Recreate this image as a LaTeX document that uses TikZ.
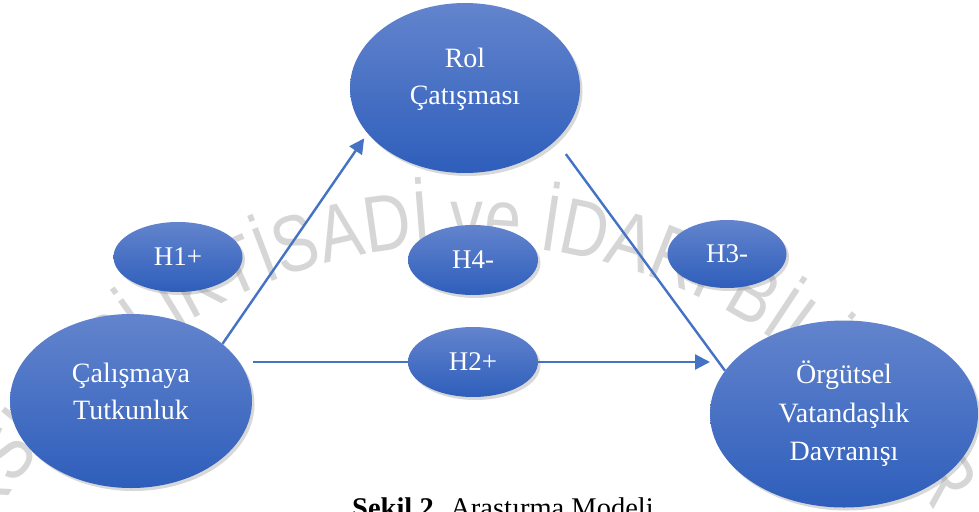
\documentclass[tikz,border=0pt]{standalone}
\usepackage{fontspec}
\setmainfont{Liberation Serif}
\newfontfamily\wmfont[FakeStretch=0.82]{Liberation Sans}
\usetikzlibrary{arrows.meta,shadows,shapes.geometric,decorations.text}
\definecolor{ctop}{RGB}{99,132,205}
\definecolor{cbot}{RGB}{46,94,187}
\definecolor{lineblue}{RGB}{68,114,196}
\definecolor{wm}{RGB}{214,214,214}
\tikzset{
  ell/.style={ellipse, draw=none, top color=ctop, bottom color=cbot, inner sep=0pt,
    drop shadow={shadow xshift=2.5pt, shadow yshift=-3pt, opacity=0.3}},
  lbl/.style={text=white, align=center, inner sep=0pt, font=\fontsize{28}{37}\selectfont},
  hlbl/.style={text=white, inner sep=0pt, font=\fontsize{27}{30}\selectfont},
  conn/.style={draw=lineblue, line width=2.4pt},
  arr/.style={conn, -{Triangle[length=15pt,width=15pt]}}
}
\begin{document}
\begin{tikzpicture}[x=1pt,y=-1pt]
\clip (0,0) rectangle (979,511);
\fill[white] (0,0) rectangle (979,511);
% watermark
\path[decoration={text along path, text align=left,
  text={|\wmfont\fontsize{80}{80}\selectfont\color{wm}|ÜNİVERSİTESİ İKTİSADİ ve İDARİ BİLİMLER FAKÜLTESİ}},
  decorate] (467,788) ++(-172.5:543) arc[start angle=-172.5, end angle=10, radius=543];
% ellipses
\node[ell, minimum width=242pt, minimum height=174pt] (ct) at (131,401) {};
\node[lbl] (ctt) at ([yshift=10pt]ct.center) {Çalışmaya\\Tutkunluk};
\node[ell, minimum width=230pt, minimum height=170pt] (rc) at (465,88) {};
\node[lbl] (rct) at ([yshift=9pt]rc.center) {Rol\\Çatışması};
\node[ell, minimum width=268pt, minimum height=187pt] (og) at (844,414) {};
\node[lbl, font=\fontsize{28}{38.5}\selectfont] (ogt) at ([yshift=0pt]og.center) {Örgütsel\\Vatandaşlık\\Davranışı};
\node[ell, minimum width=129pt, minimum height=70pt] (h1) at (178,257) {};
\node[hlbl] (h1t) at (h1.center) {H1+};
\node[ell, minimum width=130pt, minimum height=70pt] (h4) at (473,260) {};
\node[hlbl] (h4t) at (h4.center) {H4-};
\node[ell, minimum width=119pt, minimum height=68pt] (h3) at (727,254) {};
\node[hlbl] (h3t) at (h3.center) {H3-};
\node[ell, minimum width=130pt, minimum height=70pt] (h2) at (473,362) {};
\node[hlbl] (h2t) at (h2.center) {H2+};
% connectors
\draw[arr, shorten >=6pt] (ct.32.5) -- (rc.205.4);
\draw[conn, shorten <=17pt] (rc.-30.7) -- (og.160.3);
\coordinate (s3) at (253,362);
\coordinate (e3) at (710,362);
\draw[conn] (s3) -- (h2);
\draw[arr] (h2) -- (e3);
% caption
\node[anchor=base west, inner sep=0pt, font=\fontsize{28.5}{32}\selectfont] (cap) at (352,517) {\textbf{Şekil 2.} Araştırma Modeli};
\end{tikzpicture}
\end{document}
